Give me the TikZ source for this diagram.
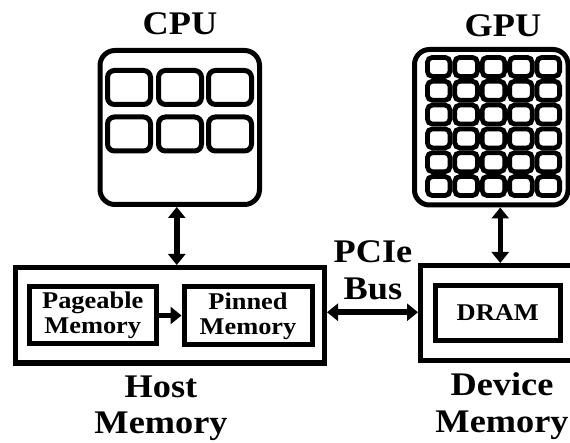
\documentclass[tikz,border=0pt]{standalone}
\usepackage{fontspec}
\setmainfont{Liberation Serif}[FakeStretch=1.1]
\usetikzlibrary{arrows.meta}
\begin{document}
\begin{tikzpicture}[x=1pt,y=-1pt,
  box/.style={draw, line width=5pt, inner sep=0pt, font=\bfseries\fontsize{24}{25}\selectfont, align=center},
  core/.style={draw, line width=5pt, rounded corners=7pt, inner sep=0pt, minimum width=43pt, minimum height=34pt},
  cell/.style={draw, line width=4.8pt, rounded corners=5pt, inner sep=0pt, minimum width=22.6pt, minimum height=19pt},
  big/.style={font=\bfseries\fontsize{33}{37}\selectfont, inner sep=0pt, align=center},
  biarr/.style={line width=5.5pt, {Triangle[length=11pt,width=17pt]}-{Triangle[length=11pt,width=17pt]}},
  onearr/.style={line width=5.5pt, -{Triangle[length=11pt,width=17pt]}}
]
\useasboundingbox[fill=white] (0,0) rectangle (570,443);
% CPU
\node[big] (cpulbl) at (180,24) {CPU};
\node[draw, line width=5pt, rounded corners=15pt, minimum width=159.5pt, minimum height=154pt, inner sep=0pt] (cpu) at (179.75,127.5) {};
\foreach \i/\x in {1/129,2/180,3/230}{
  \foreach \j/\y in {1/87.5,2/134}{
    \node[core] (core\i\j) at (\x,\y) {};
  }
}
% GPU
\node[big] (gpulbl) at (503,26) {GPU};
\node[draw, line width=5pt, rounded corners=15pt, minimum width=153.5pt, minimum height=155.5pt, inner sep=0pt] (gpu) at (491.25,127.25) {};
\foreach \i in {0,...,4}{
  \foreach \j in {0,...,5}{
    \node[cell] (cell\i\j) at ({425+13.7+27.4*\i},{55+11.92+23.83*\j}) {};
  }
}
% Host memory
\node[box, minimum width=309pt, minimum height=95.5pt] (host) at (170,315.25) {};
\node[box, minimum width=126.5pt, minimum height=57pt] (pageable) at (92.75,315.5) {Pageable\\Memory};
\node[box, minimum width=128pt, minimum height=58pt] (pinned) at (248,316) {Pinned\\Memory};
\node[big, anchor=north, font=\bfseries\fontsize{33}{35.5}\selectfont] (hostlbl) at (161,376) {Host\\Memory};
% Device memory
\node[box, minimum width=190pt, minimum height=95pt] (device) at (515.5,313) {};
\node[box, minimum width=124.5pt, minimum height=55pt] (dram) at (497.75,313) {DRAM};
\node[big, anchor=north] (devlbl) at (502,372) {Device\\Memory};
% PCIe
\node[big, anchor=north] (pcie) at (373,240) {PCIe\\Bus};
% connectors
\draw[biarr] ([xshift=-3pt]cpu.south) -- ([xshift=-3pt]cpu.south |- host.north);
\draw[biarr] ([xshift=9pt]gpu.south) -- ([xshift=9pt]gpu.south |- device.north);
\draw[biarr] ([yshift=3pt]host.east) -- ([yshift=3pt]host.east -| device.west);
\draw[onearr] (pageable.east) -- (pageable.east -| pinned.west);
\end{tikzpicture}
\end{document}
